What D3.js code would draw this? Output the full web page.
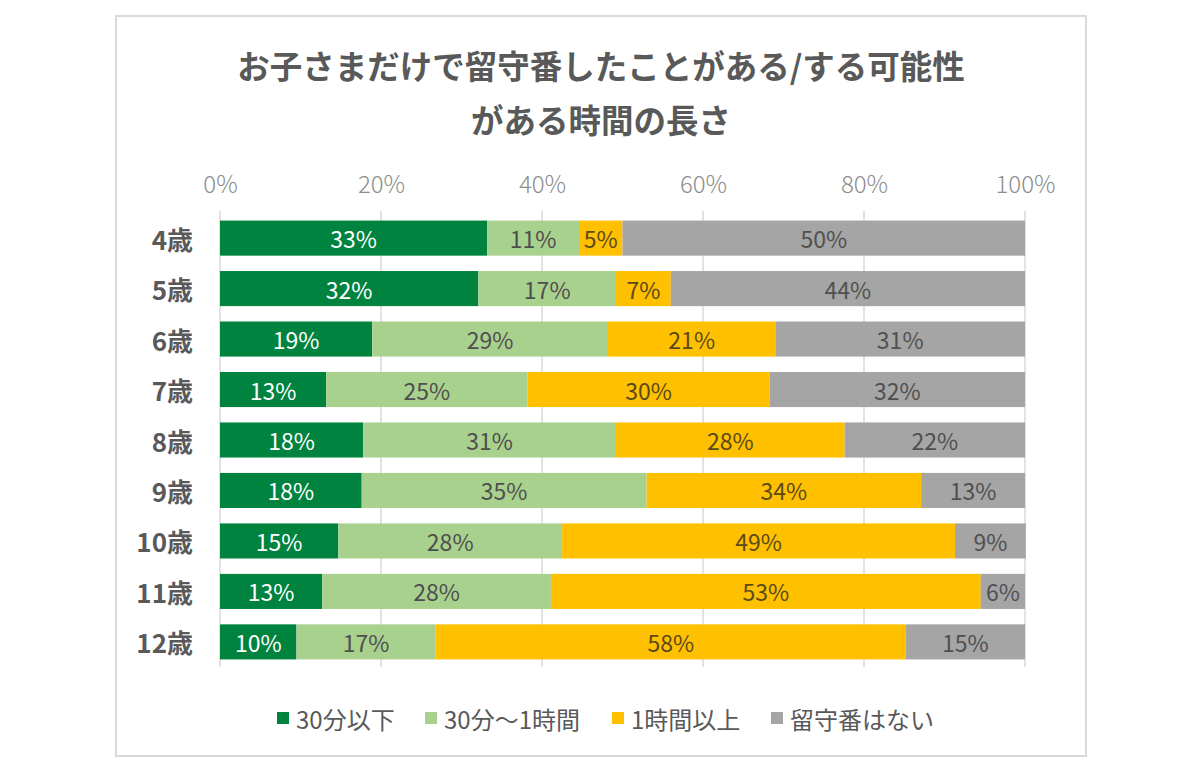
<!DOCTYPE html>
<html><head><meta charset="utf-8">
<script src="https://cdn.jsdelivr.net/npm/d3@7"></script>
<style>
html,body{margin:0;padding:0;background:#fff;}
svg{display:block;font-family:"Noto Sans CJK JP","Noto Sans",sans-serif;}
</style></head>
<body><svg id="chart" width="1200" height="772"></svg>
<script>
const titleLines = ["お子さまだけで留守番したことがある/する可能性", "がある時間の長さ"];
const categories = ["4歳","5歳","6歳","7歳","8歳","9歳","10歳","11歳","12歳"];
const seriesNames = ["30分以下","30分～1時間","1時間以上","留守番はない"];
const under30 = [33.2, 32.1, 18.9, 13.2, 17.8, 17.6, 14.7, 12.7, 9.5];
const min30to1h = [11.4, 17.1, 29.3, 25.0, 31.4, 35.4, 27.8, 28.4, 17.3];
const over1h = [5.4, 6.8, 20.8, 30.1, 28.4, 34.1, 48.8, 53.4, 58.4];
const noSitting = [50.0, 44.0, 31.0, 31.7, 22.4, 12.9, 8.8, 5.5, 14.8];
const tickValues = [0, 20, 40, 60, 80, 100];
const colors = ["#00833E", "#A9D18E", "#FFC000", "#A5A5A5"];
const labelColors = ["#ffffff", "#4f4f4f", "#5a4a1a", "#505050"];

const series = [under30, min30to1h, over1h, noSitting];
const rows = categories.map((c, i) => {
  const o = {cat: c};
  seriesNames.forEach((s, j) => o[s] = series[j][i]);
  return o;
});
const stacked = d3.stack().keys(seriesNames)(rows);

const svg = d3.select("#chart");
svg.append("rect").attr("x", 116).attr("y", 16).attr("width", 970).attr("height", 740)
  .attr("fill", "#fff").attr("stroke", "#d9d9d9").attr("stroke-width", 2);

const title = svg.append("text").attr("text-anchor", "middle")
  .attr("font-size", 32.5).attr("font-weight", 700).attr("fill", "#595959");
titleLines.forEach((t, i) => title.append("tspan").attr("x", 601).attr("y", 79 + i * 54).text(t));

const x = d3.scaleLinear().domain([0, 100]).range([220, 1025]);
const y = d3.scaleBand().domain(categories).range([213, 667]).paddingInner(0.305).paddingOuter(0.15);

// gridlines
svg.append("g").selectAll("line").data(tickValues).join("line")
  .attr("x1", d => x(d)).attr("x2", d => x(d)).attr("y1", 211).attr("y2", 667)
  .attr("stroke", "#d9d9d9").attr("stroke-width", 1.5);

// top axis labels
const ax = svg.append("g").attr("transform", "translate(0,182)")
  .call(d3.axisTop(x).tickValues(tickValues).tickFormat(d => d + "%").tickSize(0).tickPadding(0));
ax.select(".domain").remove();
ax.selectAll("text").attr("font-size", 24).attr("font-weight", 300).attr("fill", "#8c8c8c")
  .attr("font-family", "'Noto Sans CJK JP', sans-serif").attr("dy", null)
  .attr("dominant-baseline", "central");

// category labels
svg.append("g").selectAll("text").data(categories).join("text")
  .attr("x", 193).attr("y", d => y(d) + y.bandwidth() / 2)
  .attr("text-anchor", "end").attr("dominant-baseline", "central")
  .attr("font-size", 26).attr("font-weight", 700).attr("fill", "#595959").text(d => d);

// bars
const groups = svg.append("g").selectAll("g").data(stacked).join("g")
  .attr("fill", (d, i) => colors[i]);
groups.selectAll("rect").data(d => d).join("rect")
  .attr("x", d => x(d[0])).attr("width", d => x(d[1]) - x(d[0]))
  .attr("y", d => y(d.data.cat)).attr("height", y.bandwidth());

// value labels
const lg = svg.append("g").selectAll("g").data(stacked).join("g");
lg.each(function(s, i) {
  d3.select(this).selectAll("text").data(s).join("text")
    .attr("x", d => (x(d[0]) + x(d[1])) / 2)
    .attr("y", d => y(d.data.cat) + y.bandwidth() / 2)
    .attr("text-anchor", "middle").attr("dominant-baseline", "central")
    .attr("font-size", 23).attr("font-weight", 400).attr("fill", labelColors[i])
    .text(d => Math.round(d[1] - d[0]) + "%");
});

// legend
const legendX = [277, 425, 612, 771];
const leg = svg.append("g").selectAll("g").data(seriesNames).join("g")
  .attr("transform", (d, i) => `translate(${legendX[i]},718)`);
leg.append("rect").attr("x", 0).attr("y", -6).attr("width", 12).attr("height", 12)
  .attr("fill", (d, i) => colors[i]);
leg.append("text").attr("x", 19).attr("y", 0).attr("dominant-baseline", "central")
  .attr("font-size", 24).attr("fill", "#595959").text(d => d);
</script>
</body></html>
